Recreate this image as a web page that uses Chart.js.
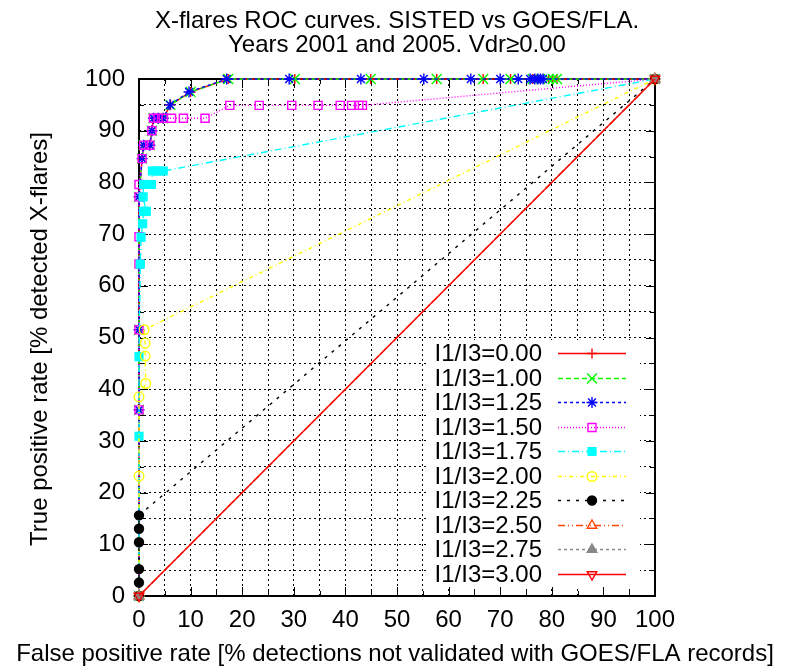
<!DOCTYPE html>
<html>
<head>
<meta charset="utf-8">
<script src="https://cdn.jsdelivr.net/npm/chart.js@4.4.1/dist/chart.umd.min.js"></script>
<style>
  html, body { margin: 0; padding: 0; background: #fff; }
</style>
</head>
<body>
<canvas id="roc" width="787" height="670"></canvas>
<script>
// values: false positive rate (x) / true positive rate (y), in %
const labels = ['I1/I3=0.00', 'I1/I3=1.00', 'I1/I3=1.25', 'I1/I3=1.50', 'I1/I3=1.75',
                'I1/I3=2.00', 'I1/I3=2.25', 'I1/I3=2.50', 'I1/I3=2.75', 'I1/I3=3.00'];

const fpr000 = [0, 0, 0, 0, 0.6, 0.9, 2.1, 2.5, 2.8, 3.7, 4.7, 6.1, 10.0, 17.3, 30.2, 44.9, 57.7, 66.7, 72.0, 76.3, 79.4, 80.2, 81.0, 100];
const tpr000 = [0, 36.0, 51.5, 77.2, 84.6, 87.2, 87.2, 90.0, 92.4, 92.4, 92.4, 95.0, 97.5, 100, 100, 100, 100, 100, 100, 100, 100, 100, 100, 100];

const fpr100 = [0, 0, 0, 0, 0.6, 0.9, 2.1, 2.5, 2.8, 3.7, 4.7, 6.1, 10.0, 17.3, 30.2, 44.9, 57.7, 66.7, 72.0, 76.3, 79.4, 80.2, 81.0, 100];
const tpr100 = [0, 36.0, 51.5, 77.2, 84.6, 87.2, 87.2, 90.0, 92.4, 92.4, 92.4, 95.0, 97.5, 100, 100, 100, 100, 100, 100, 100, 100, 100, 100, 100];

const fpr125 = [0, 0, 0, 0, 0.6, 0.9, 2.1, 2.5, 2.8, 3.7, 4.7, 6.0, 9.7, 17.0, 29.1, 43.0, 55.2, 64.3, 70.0, 73.5, 75.8, 76.7, 77.3, 77.8, 78.3, 100];
const tpr125 = [0, 36.0, 51.5, 77.2, 84.6, 87.2, 87.2, 90.0, 92.4, 92.4, 92.4, 95.0, 97.5, 100, 100, 100, 100, 100, 100, 100, 100, 100, 100, 100, 100, 100];

const fpr150 = [0, 0, 0, 0, 0, 0, 0, 0.6, 0.9, 2.1, 2.5, 2.8, 3.7, 4.7, 6.3, 8.6, 12.8, 17.6, 23.3, 29.6, 34.7, 39.0, 41.2, 42.6, 43.3, 100];
const tpr150 = [0, 36.0, 51.5, 64.2, 69.5, 77.2, 79.6, 84.6, 87.2, 87.2, 90.0, 92.4, 92.4, 92.4, 92.4, 92.4, 92.4, 94.9, 94.9, 94.9, 94.9, 94.9, 94.9, 94.9, 94.9, 100];

const fpr175 = [0, 0, 0, 0.25, 0.4, 0.7, 0.9, 1.4, 0.8, 0.9, 1.6, 2.4, 2.6, 3.3, 4.0, 4.7, 100];
const tpr175 = [0, 30.9, 46.3, 64.2, 69.4, 72.0, 74.4, 74.4, 77.2, 79.6, 79.6, 79.6, 82.2, 82.2, 82.2, 82.2, 100];

const fpr200 = [0, 0, 0, 1.3, 1.2, 1.2, 1.0, 100];
const tpr200 = [0, 23.2, 38.5, 41.1, 46.4, 48.9, 51.5, 100];

const fpr225 = [0, 0, 0, 0, 0, 0, 100];
const tpr225 = [0, 2.6, 5.2, 10.4, 13.0, 15.6, 100];

const fpr250 = [0, 100];
const tpr250 = [0, 100];
const fpr275 = [0, 100];
const tpr275 = [0, 100];
const fpr300 = [0, 100];
const tpr300 = [0, 100];

const axisTicks = [0, 10, 20, 30, 40, 50, 60, 70, 80, 90, 100];

const FONT = '"Liberation Sans", Arial, sans-serif';
Chart.defaults.font.family = FONT;
Chart.defaults.font.size = 24;
Chart.defaults.color = '#000';

function pts(xs, ys) {
  return xs.map((v, i) => ({ x: v, y: ys[i] }));
}

// x, y, colour, dash, point style, radius, filled, rotation
const styles = [
  [fpr000, tpr000, '#ff0000', [], 'cross', 5, false, 0],
  [fpr100, tpr100, '#00ff00', [5, 3], 'crossRot', 7, false, 0],
  [fpr125, tpr125, '#0000ff', [3, 3], 'star', 5.5, false, 0],
  [fpr150, tpr150, '#ff00ff', [1, 2], 'rect', 5.7, false, 0],
  [fpr175, tpr175, '#00ffff', [7, 3, 1, 3], 'rect', 5.5, true, 0],
  [fpr200, tpr200, '#ffff00', [4, 3, 1, 3], 'circle', 4.8, false, 0],
  [fpr225, tpr225, '#000000', [3, 6], 'circle', 4.5, true, 0],
  [fpr250, tpr250, '#ff4500', [7, 3, 1, 3, 1, 3], 'triangle', 5.5, false, 0],
  [fpr275, tpr275, '#888888', [3, 3], 'triangle', 5.5, true, 0],
  [fpr300, tpr300, '#ff0000', [], 'triangle', 5.5, false, 180]
];

const LW = 1.4;

const datasets = styles.map((s, i) => ({
  label: labels[i],
  data: pts(s[0], s[1]),
  borderColor: s[2],
  borderWidth: LW,
  borderDash: s[3],
  pointStyle: s[4],
  pointRadius: s[5],
  pointRotation: s[7],
  pointBorderColor: s[2],
  pointBorderWidth: LW,
  pointBackgroundColor: s[6] ? s[2] : 'rgba(0,0,0,0)',
  fill: false,
  tension: 0,
  clip: false,
  order: styles.length - i
}));

const gnuplotLook = {
  id: 'gnuplotLook',
  beforeDatasetsDraw(chart) {
    const { ctx, chartArea: a, scales: { x, y } } = chart;
    ctx.save();
    ctx.strokeStyle = '#000';
    ctx.lineWidth = 1;
    ctx.beginPath();
    x.ticks.forEach(t => {
      const len = axisTicks.includes(t.value) ? 9 : 5;
      const px = Math.round(x.getPixelForValue(t.value)) + 0.5;
      ctx.moveTo(px, a.bottom); ctx.lineTo(px, a.bottom - len);
      ctx.moveTo(px, a.top); ctx.lineTo(px, a.top + len);
    });
    y.ticks.forEach(t => {
      const len = axisTicks.includes(t.value) ? 9 : 5;
      const py = Math.round(y.getPixelForValue(t.value)) + 0.5;
      ctx.moveTo(a.left, py); ctx.lineTo(a.left + len, py);
      ctx.moveTo(a.right, py); ctx.lineTo(a.right - len, py);
    });
    ctx.stroke();
    ctx.lineWidth = 2;
    ctx.strokeRect(a.left, a.top, a.right - a.left, a.bottom - a.top);
    ctx.restore();
  },
  afterDatasetsDraw(chart) {
    const { ctx } = chart;
    ctx.save();
    // opaque key
    ctx.fillStyle = '#fff';
    ctx.fillRect(428, 340, 212, 246);
    ctx.font = '24px ' + FONT;
    ctx.textBaseline = 'middle';
    chart.data.datasets.forEach((ds, i) => {
      const yy = Math.round(353 + i * 24.5) + 0.5;
      ctx.fillStyle = '#000';
      ctx.textAlign = 'right';
      ctx.fillText(ds.label, 542, yy + 1);
      ctx.strokeStyle = ds.borderColor;
      ctx.lineWidth = LW;
      ctx.setLineDash(ds.borderDash);
      ctx.beginPath();
      ctx.moveTo(558, yy);
      ctx.lineTo(626, yy);
      ctx.stroke();
      ctx.setLineDash([]);
      ctx.fillStyle = ds.pointBackgroundColor;
      ctx.strokeStyle = ds.pointBorderColor;
      Chart.helpers.drawPoint(ctx, {
        pointStyle: ds.pointStyle, radius: ds.pointRadius,
        rotation: ds.pointRotation, borderWidth: LW
      }, 592, yy);
    });
    ctx.restore();
  },
  afterDraw(chart) {
    const { ctx } = chart;
    ctx.save();
    ctx.fillStyle = '#000';
    ctx.font = '24px ' + FONT;
    ctx.textAlign = 'center';
    ctx.textBaseline = 'middle';
    ctx.fillText('X-flares ROC curves. SISTED vs GOES/FLA.', 397, 21);
    ctx.fillText('Years 2001 and 2005. Vdr\u22650.00', 397, 45);
    ctx.fillText('False positive rate [% detections not validated with GOES/FLA records]', 395, 654);
    ctx.translate(40, 339);
    ctx.rotate(-Math.PI / 2);
    ctx.fillText('True positive rate [% detected X-flares]', 0, 0);
    ctx.restore();
  }
};

const tickLabel = v => (axisTicks.includes(v) ? String(v) : '');

new Chart(document.getElementById('roc'), {
  type: 'line',
  data: { datasets },
  options: {
    responsive: false,
    animation: false,
    layout: { padding: { top: 79, right: 132, left: 0, bottom: 0 } },
    plugins: { legend: { display: false }, tooltip: { enabled: false }, title: { display: false } },
    scales: {
      x: {
        type: 'linear', min: 0, max: 100,
        afterFit: s => { s.height = 74; },
        ticks: { stepSize: 5, autoSkip: false, maxRotation: 0, padding: 10, callback: tickLabel },
        grid: { color: '#000', lineWidth: 1, drawTicks: false },
        border: { display: false, dash: [2, 3] }
      },
      y: {
        type: 'linear', min: 0, max: 100,
        afterFit: s => { s.width = 139; },
        ticks: { stepSize: 5, autoSkip: false, padding: 14, callback: tickLabel },
        grid: { color: '#000', lineWidth: 1, drawTicks: false },
        border: { display: false, dash: [2, 3] }
      }
    }
  },
  plugins: [gnuplotLook]
});
</script>
</body>
</html>
